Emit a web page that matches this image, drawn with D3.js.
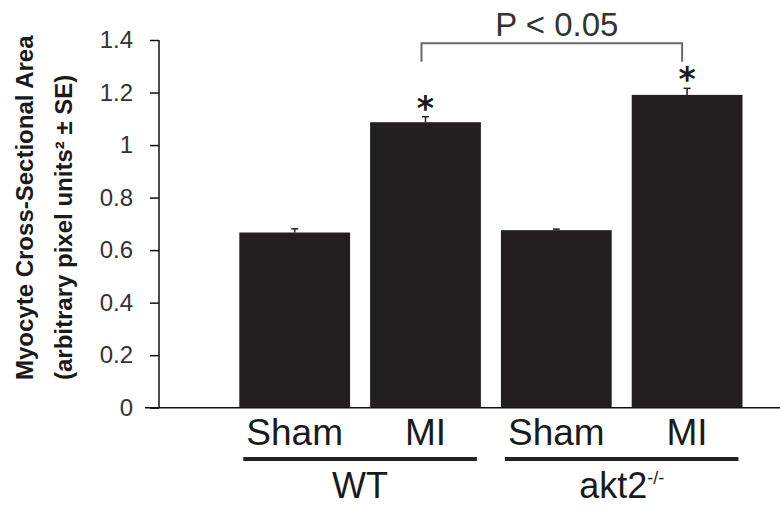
<!DOCTYPE html>
<html>
<head>
<meta charset="utf-8">
<script src="https://cdn.jsdelivr.net/npm/d3@7"></script>
<style>
  body { margin: 0; background: #fff; }
  svg { display: block; }
  text { font-family: "Liberation Sans", Arial, sans-serif; }
</style>
</head>
<body>
<div id="chart"></div>
<script>
// values
var categories = ["WT Sham", "WT MI", "akt2 Sham", "akt2 MI"];
var barLabels = ["Sham", "MI", "Sham", "MI"];
var means = [0.667, 1.087, 0.676, 1.191];
var errors = [0.014, 0.021, 0.004, 0.025];
var starred = [false, true, false, true];
var groups = ["WT", "akt2"];
var groupMembers = [[0, 1], [2, 3]];
var yTicks = [0, 0.2, 0.4, 0.6, 0.8, 1, 1.2, 1.4];

var width = 780, height = 512;

var svg = d3.select("#chart").append("svg")
  .attr("width", width)
  .attr("height", height);

var y = d3.scaleLinear()
  .domain([0, 1.4])
  .range([407.7, 40]);

var x = d3.scaleBand()
  .domain(categories)
  .range([239.3, 742.5])
  .paddingInner(0.153)
  .paddingOuter(0);

var cx = function (i) { return x(categories[i]) + x.bandwidth() / 2; };

// y axis
var yAxis = d3.axisLeft(y)
  .tickValues(yTicks)
  .tickSize(9)
  .tickPadding(17)
  .tickFormat(function (d) { return String(d); });

var gy = svg.append("g")
  .attr("transform", "translate(159,0)")
  .call(yAxis);
gy.select(".domain")
  .attr("d", "M0," + y(1.4) + "V" + y(0))
  .attr("stroke", "#111")
  .attr("stroke-width", 1.5);
gy.selectAll(".tick line").attr("stroke", "#111").attr("stroke-width", 1.5);
gy.selectAll(".tick text")
  .attr("fill", "#333")
  .style("font-size", "24px")
  .style("font-family", "'Liberation Sans', Arial, sans-serif");

// y title
svg.append("text")
  .attr("transform", "translate(33,380) rotate(-90)")
  .style("font-size", "24px")
  .style("font-weight", "bold")
  .attr("fill", "#1a1a1a")
  .text("Myocyte Cross-Sectional Area");
svg.append("text")
  .attr("transform", "translate(72,380) rotate(-90)")
  .style("font-size", "24px")
  .style("font-weight", "bold")
  .attr("fill", "#1a1a1a")
  .text("(arbitrary pixel units\u00b2 \u00b1 SE)");

// bars
svg.selectAll(".bar")
  .data(means)
  .enter().append("rect")
  .attr("class", "bar")
  .attr("x", function (d, i) { return x(categories[i]); })
  .attr("y", function (d) { return y(d); })
  .attr("width", x.bandwidth())
  .attr("height", function (d) { return y(0) - y(d); })
  .attr("fill", "#231f20");

// error bars
var eb = svg.selectAll(".err")
  .data(means)
  .enter().append("g")
  .attr("class", "err")
  .attr("stroke", "#231f20")
  .attr("stroke-width", 1.5);
eb.append("line")
  .attr("x1", function (d, i) { return cx(i); })
  .attr("x2", function (d, i) { return cx(i); })
  .attr("y1", function (d) { return y(d); })
  .attr("y2", function (d, i) { return y(d + errors[i]); });
eb.append("line")
  .attr("x1", function (d, i) { return cx(i) - 3.5; })
  .attr("x2", function (d, i) { return cx(i) + 3.5; })
  .attr("y1", function (d, i) { return y(d + errors[i]); })
  .attr("y2", function (d, i) { return y(d + errors[i]); });

// asterisks
svg.selectAll(".star")
  .data(means.filter(function (d, i) { return starred[i]; }))
  .enter().append("text")
  .attr("class", "star")
  .attr("x", function (d) { return cx(means.indexOf(d)); })
  .attr("y", function (d) { var i = means.indexOf(d); return y(d + errors[i]) + 3; })
  .attr("text-anchor", "middle")
  .style("font-family", "'DejaVu Sans', sans-serif")
  .style("font-weight", "bold")
  .style("font-size", "33px")
  .attr("fill", "#1a1a1a")
  .text("*");

// baseline
svg.append("line")
  .attr("x1", 145).attr("x2", width)
  .attr("y1", y(0)).attr("y2", y(0))
  .attr("stroke", "#111")
  .attr("stroke-width", 1.5);

// bar labels
svg.selectAll(".blabel")
  .data(barLabels)
  .enter().append("text")
  .attr("class", "blabel")
  .attr("x", function (d, i) { return cx(i); })
  .attr("y", 445)
  .attr("text-anchor", "middle")
  .style("font-size", "37px")
  .attr("fill", "#1a1a1a")
  .text(function (d) { return d; });

// group underlines and labels
var gcx = function (g) {
  var m = groupMembers[g];
  return (cx(m[0]) + cx(m[m.length - 1])) / 2;
};
var lineHalf = x.step() - 14;
svg.selectAll(".gline")
  .data(groups)
  .enter().append("line")
  .attr("class", "gline")
  .attr("x1", function (d, i) { return gcx(i) - lineHalf; })
  .attr("x2", function (d, i) { return gcx(i) + lineHalf; })
  .attr("y1", 459).attr("y2", 459)
  .attr("stroke", "#222")
  .attr("stroke-width", 4);

var gl = svg.selectAll(".glabel")
  .data(groups)
  .enter().append("text")
  .attr("class", "glabel")
  .attr("x", function (d, i) { return gcx(i); })
  .attr("y", 498)
  .attr("text-anchor", "middle")
  .style("font-size", "36px")
  .attr("fill", "#1a1a1a");
gl.append("tspan").text(function (d) { return d; });
gl.filter(function (d) { return d === "akt2"; })
  .append("tspan")
  .attr("dy", -14)
  .style("font-size", "18px")
  .text("-/-");

// significance bracket
var bx1 = cx(1) - 4, bx2 = cx(3) - 5;
svg.append("path")
  .attr("d", "M" + bx1 + "," + y(1.317) + "V" + y(1.388) + "H" + bx2 + "V" + y(1.317))
  .attr("fill", "none")
  .attr("stroke", "#6a6a6a")
  .attr("stroke-width", 2);
svg.append("text")
  .attr("x", (bx1 + bx2) / 2 + 5)
  .attr("y", 36)
  .attr("text-anchor", "middle")
  .style("font-size", "33px")
  .attr("fill", "#333")
  .text("P < 0.05");
</script>
</body>
</html>
